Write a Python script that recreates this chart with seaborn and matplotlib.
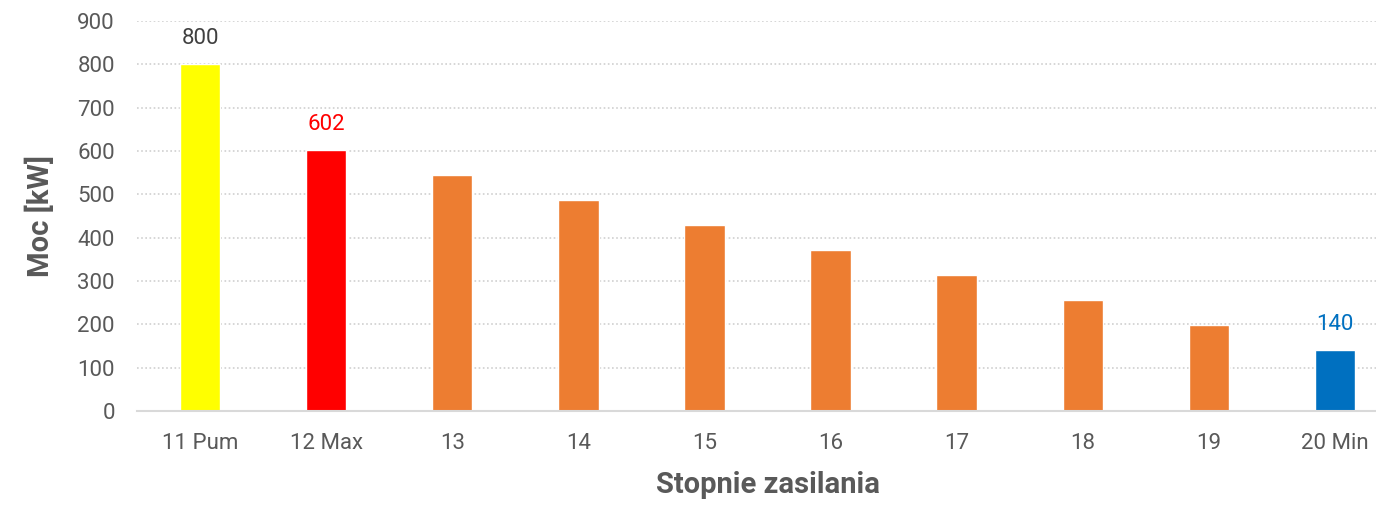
import matplotlib
matplotlib.use("Agg")
import matplotlib.pyplot as plt
import seaborn as sns
import pandas as pd

# dane
stopnie = ["11 Pum", "12 Max", "13", "14", "15", "16", "17", "18", "19", "20 Min"]
moc_kw = [800, 602, 544, 487, 429, 371, 313, 256, 198, 140]
kolory = ["#FFFF00", "#FF0000", "#ED7D31", "#ED7D31", "#ED7D31",
          "#ED7D31", "#ED7D31", "#ED7D31", "#ED7D31", "#0070C0"]
etykiety = {0: ("800", "#404040"), 1: ("602", "#FF0000"), 9: ("140", "#0070C0")}

TEXT = "#595959"

sns.set_theme(style="white")
plt.rcParams["font.family"] = ["Roboto", "DejaVu Sans"]

df = pd.DataFrame({"stopien": stopnie, "moc": moc_kw})

fig = plt.figure(figsize=(13.76, 5.12), dpi=100)
ax = fig.add_axes([137 / 1376, 101 / 512, 1261 / 1376, 390 / 512])

sns.barplot(data=df, x="stopien", y="moc", hue="stopien", palette=kolory,
            legend=False, width=0.32, saturation=1, ax=ax, order=stopnie)

for i, (txt, col) in etykiety.items():
    ax.text(i, moc_kw[i] + 60, txt, ha="center", va="center",
            fontsize=16, color=col)

ax.set_xlim(-0.5, 9.5)
ax.set_ylim(0, 900)
ax.set_yticks(range(0, 901, 100))
ax.yaxis.grid(True, linestyle=(0, (1, 1.5)), color="#d0d0d0", linewidth=1.2)
ax.set_axisbelow(True)
for s in ["top", "right", "left"]:
    ax.spines[s].set_visible(False)
ax.spines["bottom"].set_color("#d9d9d9")
ax.spines["bottom"].set_linewidth(1.5)

ax.tick_params(axis="both", length=0, labelsize=16, labelcolor=TEXT)
ax.tick_params(axis="x", pad=16)
ax.tick_params(axis="y", pad=16)

ax.set_xlabel("Stopnie zasilania", fontsize=21, fontweight="bold", color=TEXT, labelpad=12)
ax.set_ylabel("Moc [kW]", fontsize=21, fontweight="bold", color=TEXT, labelpad=16)

fig.savefig("out.png", dpi=100)
plt.close(fig)
